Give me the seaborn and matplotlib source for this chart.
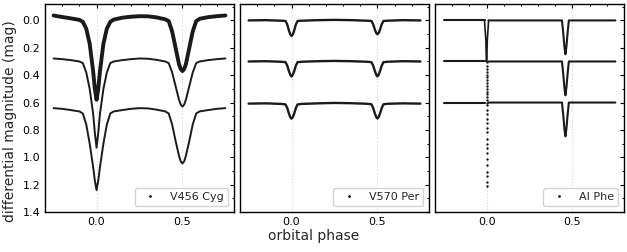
import matplotlib
matplotlib.use("Agg")
import numpy as np
import pandas as pd
import matplotlib.pyplot as plt
from matplotlib.lines import Line2D
from matplotlib.ticker import MultipleLocator
import seaborn as sns

# -----------------------------
#  Light curves (phase, differential magnitude)
# -----------------------------
# V456 Cyg
cyg_phase = [-0.25, -0.20, -0.15, -0.10, -0.08, -0.06, -0.04, -0.02, -0.01, 0.0,
             0.01, 0.02, 0.04, 0.06, 0.08, 0.10, 0.15, 0.20, 0.25, 0.30, 0.35,
             0.40, 0.42, 0.44, 0.46, 0.48, 0.49, 0.50, 0.51, 0.52, 0.54, 0.56,
             0.58, 0.60, 0.65, 0.70, 0.75]
cyg_mag_1 = [-0.036, -0.025, -0.015, -0.004, 0.01, 0.06, 0.17, 0.37, 0.50, 0.58,
             0.50, 0.37, 0.17, 0.06, 0.01, -0.006, -0.02, -0.027, -0.031, -0.03, -0.022,
             -0.008, 0.005, 0.08, 0.20, 0.32, 0.355, 0.37, 0.355, 0.32, 0.20, 0.08,
             0.005, -0.012, -0.024, -0.031, -0.036]
cyg_mag_2 = [0.278, 0.283, 0.29, 0.30, 0.312, 0.38, 0.50, 0.68, 0.82, 0.93,
             0.82, 0.68, 0.50, 0.38, 0.312, 0.30, 0.29, 0.283, 0.278, 0.28, 0.288,
             0.30, 0.312, 0.38, 0.48, 0.58, 0.615, 0.63, 0.615, 0.58, 0.48, 0.38,
             0.312, 0.30, 0.29, 0.283, 0.278]
cyg_mag_3 = [0.641, 0.646, 0.655, 0.665, 0.68, 0.76, 0.90, 1.07, 1.17, 1.24,
             1.17, 1.07, 0.90, 0.76, 0.68, 0.665, 0.655, 0.646, 0.641, 0.643, 0.652,
             0.665, 0.68, 0.76, 0.88, 0.99, 1.03, 1.045, 1.03, 0.99, 0.88, 0.76,
             0.68, 0.665, 0.655, 0.646, 0.641]

# V570 Per
per_phase = [-0.25, -0.15, -0.06, -0.035, -0.025, -0.015, -0.007, 0.0, 0.007, 0.015,
             0.025, 0.035, 0.06, 0.15, 0.25, 0.35, 0.44, 0.465, 0.475, 0.485,
             0.493, 0.50, 0.507, 0.515, 0.525, 0.535, 0.56, 0.65, 0.75]
per_mag_1 = [0.0, -0.002, 0.002, 0.004, 0.03, 0.075, 0.103, 0.114, 0.103, 0.075,
             0.03, 0.004, 0.002, -0.002, -0.004, -0.002, 0.002, 0.004, 0.028, 0.067,
             0.092, 0.101, 0.092, 0.067, 0.028, 0.004, 0.002, -0.002, 0.0]
per_mag_2 = [0.300, 0.298, 0.302, 0.305, 0.33, 0.372, 0.398, 0.410, 0.398, 0.372,
             0.33, 0.305, 0.302, 0.298, 0.296, 0.298, 0.302, 0.305, 0.33, 0.37,
             0.397, 0.409, 0.397, 0.37, 0.33, 0.305, 0.302, 0.298, 0.300]
per_mag_3 = [0.608, 0.606, 0.610, 0.614, 0.64, 0.682, 0.708, 0.718, 0.708, 0.682,
             0.64, 0.614, 0.610, 0.606, 0.603, 0.605, 0.609, 0.613, 0.64, 0.68,
             0.706, 0.717, 0.706, 0.68, 0.64, 0.613, 0.609, 0.606, 0.608]

# AI Phe: out-of-primary part of each curve (the primary shows up as sparse dots)
phe_left_phase = [-0.25, -0.012]
phe_right_phase = [0.012, 0.30, 0.439, 0.447, 0.453, 0.459, 0.465, 0.471, 0.479, 0.75]
phe_base = [0.0, 0.30, 0.60]
phe_sec_depth = [0.0, 0.0, 0.0, 0.10, 0.19, 0.247, 0.19, 0.10, 0.0, 0.0]
phe_ingress_phase = [-0.012, -0.004, -0.001, 0.001, 0.004, 0.012]
phe_ingress_mag = [0.0, 0.15, 0.30, 0.30, 0.15, 0.0]
phe_dot_mag = [0.307, 0.331, 0.356, 0.380, 0.397, 0.416, 0.435, 0.460, 0.476,
               0.500, 0.525, 0.540, 0.560, 0.580, 0.600, 0.620, 0.653, 0.682,
               0.718, 0.750, 0.784, 0.815, 0.863, 0.900, 0.930, 0.970, 1.010,
               1.057, 1.105, 1.140, 1.178, 1.210]
phe_dot_phase = [0.0] * len(phe_dot_mag)

star_names = ["V456 Cyg", "V570 Per", "AI Phe"]


def curves_frame(phase, mags):
    rows = []
    for i, m in enumerate(mags):
        rows.append(pd.DataFrame({"phase": phase, "mag": m, "seg": i}))
    return pd.concat(rows, ignore_index=True)


def style_axis(ax):
    ax.set_xlim(-0.3, 0.8)
    ax.set_ylim(1.4, -0.12)
    ax.xaxis.set_major_locator(MultipleLocator(0.5))
    ax.xaxis.set_minor_locator(MultipleLocator(0.1))
    ax.yaxis.set_major_locator(MultipleLocator(0.2))
    ax.yaxis.set_minor_locator(MultipleLocator(0.1))
    ax.tick_params(which="both", direction="in", top=True, right=True,
                   labelsize=8, colors="black")
    ax.tick_params(which="major", length=3, width=0.8)
    ax.tick_params(which="minor", length=1.6, width=0.7)
    ax.grid(True, axis="x", which="major", color="lightgray", ls=":", lw=0.8)
    ax.grid(False, axis="y")
    for sp in ax.spines.values():
        sp.set_color("black")
        sp.set_linewidth(1.0)
    ax.set_xlabel("")
    ax.set_ylabel("")


def add_legend(ax, name):
    h = Line2D([], [], ls="", marker=".", color="k", ms=2)
    ax.legend(handles=[h], labels=[name], loc="lower right", fontsize=8,
              edgecolor="lightgray", framealpha=1.0, fancybox=True)


def main():
    sns.set_theme(style="white")
    plt.rcParams["font.family"] = ["DejaVu Sans"]

    fig, axes = plt.subplots(1, 3, sharey=True, figsize=(6.27, 2.52), dpi=100)
    fig.subplots_adjust(left=0.0718, right=0.9952, bottom=0.1587, top=0.9841,
                        wspace=0.032)

    # V456 Cyg (top curve is noisy, drawn as a thick band)
    ax = axes[0]
    sns.lineplot(x=cyg_phase, y=cyg_mag_1, color="k", lw=2.8, ax=ax, sort=False)
    df = curves_frame(cyg_phase, [cyg_mag_2, cyg_mag_3])
    sns.lineplot(data=df, x="phase", y="mag", units="seg", estimator=None,
                 sort=False, color="k", lw=1.4, ax=ax, legend=False)

    # V570 Per
    ax = axes[1]
    df = curves_frame(per_phase, [per_mag_1, per_mag_2, per_mag_3])
    sns.lineplot(data=df, x="phase", y="mag", units="seg", estimator=None,
                 sort=False, color="k", lw=1.7, ax=ax, legend=False)

    # AI Phe
    ax = axes[2]
    parts = []
    for i, b in enumerate(phe_base):
        parts.append(pd.DataFrame({"phase": phe_left_phase, "mag": b, "seg": 2 * i}))
        parts.append(pd.DataFrame({"phase": phe_right_phase,
                                   "mag": [b + d for d in phe_sec_depth],
                                   "seg": 2 * i + 1}))
    df = pd.concat(parts, ignore_index=True)
    sns.lineplot(data=df, x="phase", y="mag", units="seg", estimator=None,
                 sort=False, color="k", lw=1.5, ax=ax, legend=False)
    sns.lineplot(x=phe_ingress_phase, y=phe_ingress_mag, sort=False, color="k",
                 lw=1.2, ax=ax)
    sns.scatterplot(x=phe_dot_phase, y=phe_dot_mag, color="k", marker="o", s=3,
                    linewidth=0, ax=ax)

    for ax, name in zip(axes, star_names):
        style_axis(ax)
        add_legend(ax, name)
    axes[0].yaxis.set_major_formatter(matplotlib.ticker.FormatStrFormatter("%.1f"))

    fig.text(0.5, 0.064, "orbital phase", ha="center", va="center", fontsize=10)
    fig.text(0.016, 0.52, "differential magnitude (mag)", ha="center",
             va="center", rotation=90, fontsize=10)

    fig.savefig("out.png", dpi=100)


if __name__ == "__main__":
    main()
